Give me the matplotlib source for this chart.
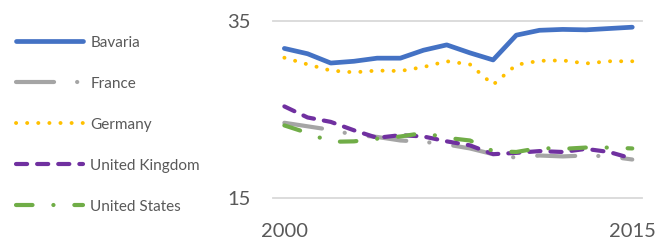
import matplotlib
matplotlib.use("Agg")
import matplotlib.pyplot as plt

plt.rcParams['font.family'] = ['Lato', 'DejaVu Sans']
plt.rcParams['lines.scale_dashes'] = False

# Werte
years = list(range(2000, 2016))
bavaria = [31.9, 31.3, 30.25, 30.45, 30.8, 30.8, 31.7, 32.3, 31.4, 30.6,
           33.4, 33.95, 34.05, 34.0, 34.15, 34.3]
france = [23.5, 23.1, 22.7, 22.15, 21.9, 21.5, 21.35, 21.05, 20.6, 19.95,
          19.55, 19.8, 19.7, 19.8, 19.7, 19.35]
germany = [30.85, 30.1, 29.4, 29.2, 29.4, 29.35, 29.8, 30.45, 30.1, 27.8,
           30.05, 30.5, 30.55, 30.2, 30.45, 30.45]
uk = [25.35, 24.1, 23.6, 22.65, 21.8, 22.1, 21.95, 21.4, 20.95, 19.95,
      20.1, 20.3, 20.2, 20.55, 20.2, 19.45]
us = [23.2, 22.35, 21.35, 21.4, 21.7, 21.95, 22.35, 21.8, 21.5, 20.3,
      20.2, 20.65, 20.55, 20.7, 20.7, 20.6]

names = ['Bavaria', 'France', 'Germany', 'United Kingdom', 'United States']
colors = ['#4472C4', '#A5A5A5', '#FFC000', '#7030A0', '#70AD47']
text_col = '#595959'

fig = plt.figure(figsize=(6.62, 2.40), dpi=100)
ax = fig.add_axes([273/662, 42/240, 369/662, 177/240])

ax.plot(years, bavaria, color=colors[0], lw=3.4, solid_capstyle='round',
        solid_joinstyle='round', label=names[0])
ax.plot(years, france, color=colors[1], lw=3, dash_capstyle='round',
        dashes=(27.4, 16.6, 0.1, 17.3), label=names[1])
ax.plot(years, germany, color=colors[2], lw=2.8, dash_capstyle='round',
        dashes=(0.1, 7.9), label=names[2])
ax.plot(years, uk, color=colors[3], lw=3, dash_capstyle='round',
        dashes=(8, 7.2), label=names[3])
ax.plot(years, us, color=colors[4], lw=3, dash_capstyle='round',
        dashes=(11.9, 15, 0.1, 15), label=names[4])

ax.set_xlim(1999.51, 2015.42)
ax.set_ylim(15, 35)
ax.set_yticks([15, 35])
ax.set_xticks([2000, 2015])
for y in [15, 35]:
    ax.axhline(y, color='#D9D9D9', lw=1.3, zorder=0, clip_on=False)
for s in ax.spines.values():
    s.set_visible(False)
ax.tick_params(length=0, labelsize=14.5, labelcolor=text_col)
ax.tick_params(axis='y', pad=16)
ax.tick_params(axis='x', pad=18)

leg = fig.legend(loc='upper left', bbox_to_anchor=(0.015, 0.8775), frameon=False,
                 fontsize=11, handlelength=4.4, handletextpad=0.45,
                 labelspacing=1.77, borderaxespad=0)
for t in leg.get_texts():
    t.set_color(text_col)

plt.savefig('out.png', dpi=100)
plt.close()
